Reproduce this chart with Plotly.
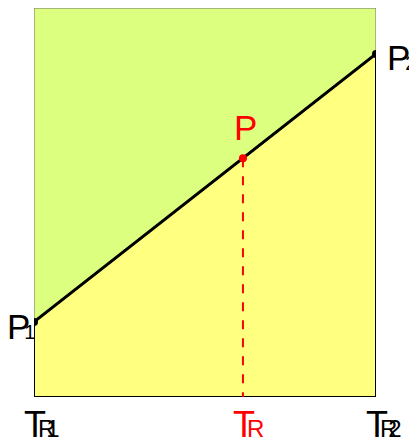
import plotly.graph_objs as go

# reduced temperatures and pressures
t_labels = ['<span style="letter-spacing:-8px">T</span><span style="font-size:24px;letter-spacing:-9px">R1</span>',
            '<span style="letter-spacing:-8px">T</span><span style="font-size:24px">R</span>',
            '<span style="letter-spacing:-8px">T</span><span style="font-size:24px;letter-spacing:-9px">R2</span>']
t_values = [0.0, 0.611, 1.0]
p_labels = ['<span style="letter-spacing:-6px">P</span><span style="font-size:20px">1</span>', 'P',
            '<span style="letter-spacing:-5px">P</span><span style="font-size:20px">2</span>']
p_values = [0.193, 0.614, 0.882]
y_top = 1.0
y_bottom = 0.0

GREEN = 'rgb(221,255,128)'
YELLOW = 'rgb(255,255,128)'
FONT = 'Liberation Sans'

# region above the line
upper = go.Scatter(
    x=[t_values[0], t_values[0], t_values[2], t_values[2], t_values[0]],
    y=[p_values[0], y_top, y_top, p_values[2], p_values[0]],
    mode='lines', fill='toself', fillcolor=GREEN,
    line=dict(color='rgb(110,110,110)', width=1),
    hoverinfo='skip', showlegend=False,
)

# region below the line, black outline
lower = go.Scatter(
    x=[t_values[0], t_values[0], t_values[2], t_values[2], t_values[0]],
    y=[y_bottom, p_values[0], p_values[2], y_bottom, y_bottom],
    mode='lines', fill='toself', fillcolor=YELLOW,
    line=dict(color='black', width=2),
    hoverinfo='skip', showlegend=False,
)

# the straight line P1 - P2
main_line = go.Scatter(
    x=[t_values[0], t_values[2]], y=[p_values[0], p_values[2]],
    mode='lines+markers', line=dict(color='black', width=3),
    marker=dict(color='black', size=8), showlegend=False,
)

# dashed drop from P to the axis
drop = go.Scatter(
    x=[t_values[1], t_values[1]], y=[p_values[1], y_bottom],
    mode='lines', line=dict(color='red', width=2, dash='dash'),
    showlegend=False,
)

red_dot = go.Scatter(
    x=[t_values[1]], y=[p_values[1]], mode='markers',
    marker=dict(color='red', size=8), showlegend=False,
)

annotations = []
for t, lab, col in zip(t_values, t_labels, ['black', 'red', 'black']):
    annotations.append(dict(
        x=t, y=0, yref='paper', text=lab, showarrow=False,
        yanchor='top', yshift=-5, xanchor='left', xshift=-12,
        font=dict(size=36, color=col, family=FONT),
    ))

annotations.append(dict(x=t_values[0], y=p_values[0], text=p_labels[0], showarrow=False,
                        xanchor='right', yanchor='middle', xshift=3, yshift=-5,
                        font=dict(size=35, color='black', family=FONT)))
annotations.append(dict(x=t_values[2], y=p_values[2], text=p_labels[2], showarrow=False,
                        xanchor='left', yanchor='middle', xshift=9, yshift=-4,
                        font=dict(size=35, color='black', family=FONT)))
annotations.append(dict(x=t_values[1], y=p_values[1], text=p_labels[1], showarrow=False,
                        xanchor='center', yanchor='bottom', yshift=9, xshift=3,
                        font=dict(size=35, color='red', family=FONT)))

layout = go.Layout(
    width=409, height=441,
    paper_bgcolor='white', plot_bgcolor='white',
    margin=dict(l=34, r=33, t=8, b=44),
    xaxis=dict(range=[0, 1], visible=False, fixedrange=True),
    yaxis=dict(range=[0, 1], visible=False, fixedrange=True),
    annotations=annotations,
    showlegend=False,
)

fig = go.Figure(data=[upper, lower, drop, main_line, red_dot], layout=layout)
fig.write_html("out.html", config={'displayModeBar': False},
               post_script="document.body.style.margin='0';document.body.style.overflow='hidden';")
